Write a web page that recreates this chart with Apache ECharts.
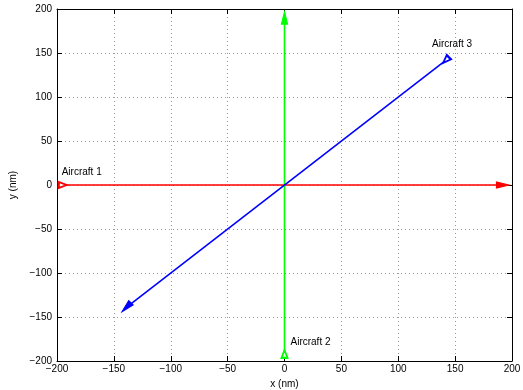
<!DOCTYPE html>
<html>
<head>
<meta charset="utf-8">
<script src="https://cdn.jsdelivr.net/npm/echarts@6/dist/echarts.min.js"></script>
<style>
  html, body { margin: 0; padding: 0; background: #fff; }
  #chart { width: 523px; height: 390px; }
</style>
</head>
<body>
<div id="chart"></div>
<script>
// 刻度
const ticks = [-200, -150, -100, -50, 0, 50, 100, 150, 200];

// 航迹 (起点 -> 终点)
const aircraftNames = ["Aircraft 1", "Aircraft 2", "Aircraft 3"];
const track1X = [-195, 192];
const track1Y = [0, 0];
const track2X = [0, 0];
const track2Y = [-192, 190];
const track3X = [142, -139];
const track3Y = [142, -139];

const colors = ["#ff0000", "#00ff00", "#0000ff"];
const fontFamily = "Liberation Sans, Arial, sans-serif";
const minus = (v) => String(v).replace("-", "\u2212");

let myChart = echarts.init(document.getElementById("chart"));

// 起点空心三角 + 终点箭头
function trackSeries(i, xs, ys, labelOffset) {
	const dx = xs[1] - xs[0];
	const dy = ys[1] - ys[0];
	// 朝向角 (三角默认朝上)
	const ang = (Math.atan2(dy, dx) * 180) / Math.PI - 90;
	return {
		name: aircraftNames[i],
		type: "line",
		xAxisIndex: 0,
		yAxisIndex: 0,
		animation: false,
		lineStyle: { color: colors[i], width: 1.6 },
		itemStyle: { color: colors[i], borderColor: colors[i], borderWidth: 1.4 },
		data: [
			{
				value: [xs[0], ys[0]],
				symbol: "emptyTriangle",
				symbolSize: [6, 8],
				symbolRotate: ang,
				label: {
					show: true,
					formatter: aircraftNames[i],
					position: "inside",
					align: "left",
					verticalAlign: "middle",
					offset: labelOffset,
					color: "#000",
					fontSize: 10,
					fontFamily: fontFamily,
				},
			},
			{
				value: [xs[1], ys[1]],
				symbol: "triangle",
				symbolSize: [6, 12],
				symbolRotate: ang,
			},
		],
	};
}

const axisCommon = {
	type: "value",
	min: -200,
	max: 200,
	interval: 50,
	axisLine: { show: true, onZero: false, lineStyle: { color: "#000", width: 1 } },
	axisTick: { show: true, inside: true, length: 5, lineStyle: { color: "#000" } },
};

const option = {
	backgroundColor: "#fff",
	grid: { left: 57, right: 11, top: 9, bottom: 29, containLabel: false, outerBoundsMode: "none" },
	xAxis: [
		Object.assign({}, axisCommon, {
			position: "bottom",
			name: "x (nm)",
			nameLocation: "middle",
			nameGap: 14,
			nameTextStyle: { color: "#000", fontSize: 10, fontFamily: fontFamily },
			axisLabel: { color: "#000", fontSize: 10, fontFamily: fontFamily, margin: 3, formatter: minus },
			splitLine: { show: true, lineStyle: { color: "#999", type: [1, 3], width: 1 } },
		}),
		Object.assign({}, axisCommon, {
			position: "top",
			axisLabel: { show: false },
			splitLine: { show: false },
		}),
	],
	yAxis: [
		Object.assign({}, axisCommon, {
			position: "left",
			name: "y (nm)",
			nameLocation: "middle",
			nameGap: 38,
			nameRotate: 90,
			nameTextStyle: { color: "#000", fontSize: 10, fontFamily: fontFamily },
			axisLabel: { color: "#000", fontSize: 10, fontFamily: fontFamily, margin: 5, formatter: minus },
			splitLine: { show: true, lineStyle: { color: "#999", type: [1, 3], width: 1 } },
		}),
		Object.assign({}, axisCommon, {
			position: "right",
			axisLabel: { show: false },
			splitLine: { show: false },
		}),
	],
	series: [
		trackSeries(0, track1X, track1Y, [-1, -13]),
		trackSeries(1, track2X, track2Y, [6, -12]),
		trackSeries(2, track3X, track3Y, [-14, -16]),
	],
};

myChart.setOption(option);
</script>
</body>
</html>
